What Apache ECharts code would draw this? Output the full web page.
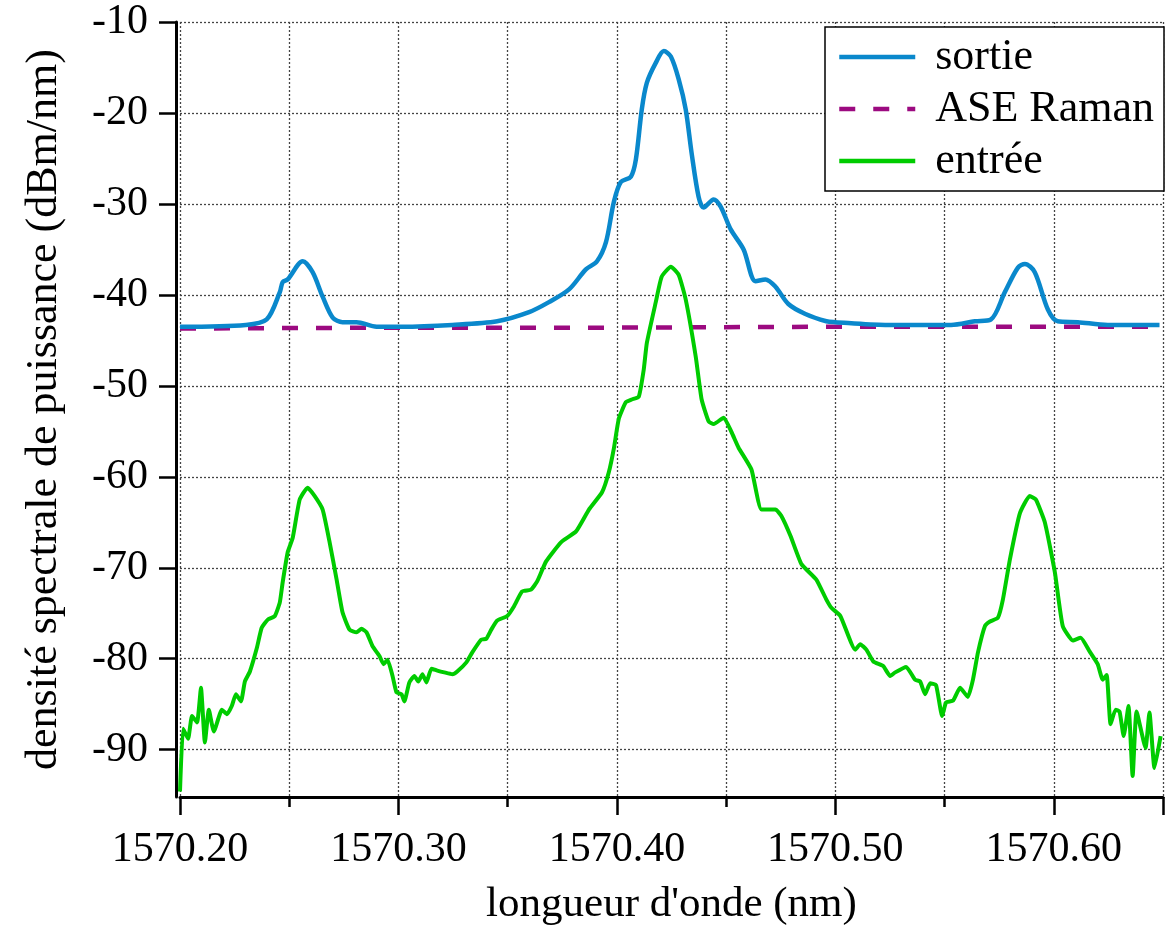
<!DOCTYPE html>
<html>
<head>
<meta charset="utf-8">
<script src="https://cdn.jsdelivr.net/npm/echarts@6/dist/echarts.min.js"></script>
<style>
    html, body { margin: 0; padding: 0; background: #fff; }
    #main { width: 1172px; height: 931px; }
</style>
</head>
<body>
<div id="main"></div>
<script type="text/javascript">
    // longueur d'onde (nm) / densite spectrale (dBm/nm)
    var sortieX = [1570.2000, 1570.2301, 1570.2397, 1570.2457, 1570.2470, 1570.2493, 1570.2562, 1570.2607,
        1570.2653, 1570.2699, 1570.2744, 1570.2808, 1570.2900, 1570.3018, 1570.3247, 1570.3452, 1570.3598,
        1570.3689, 1570.3781, 1570.3858, 1570.3909, 1570.3950, 1570.3986, 1570.4018, 1570.4064, 1570.4087,
        1570.4114, 1570.4137, 1570.4178, 1570.4215, 1570.4247, 1570.4283, 1570.4315, 1570.4342, 1570.4374,
        1570.4397, 1570.4443, 1570.4475, 1570.4521, 1570.4580, 1570.4635, 1570.4680, 1570.4726, 1570.4785,
        1570.4863, 1570.4959, 1570.5000, 1570.5228, 1570.5530, 1570.5639, 1570.5712, 1570.5776, 1570.5836,
        1570.5868, 1570.5913, 1570.5973, 1570.6018, 1570.6110, 1570.6247, 1570.6484];
    var sortieY = [-43.5, -43.3, -42.7, -39.7, -38.6, -38.3, -36.3, -37.5,
        -40.2, -42.5, -43.0, -43.0, -43.5, -43.5, -43.3, -42.9, -41.9,
        -40.8, -39.4, -37.2, -36.3, -34.2, -29.8, -27.6, -27.0, -25.1,
        -19.6, -16.7, -14.5, -13.2, -13.8, -16.3, -19.6, -24.4, -29.2,
        -30.4, -29.5, -30.3, -32.8, -35.0, -38.5, -38.3, -39.1, -41.0,
        -42.1, -42.9, -43.0, -43.3, -43.3, -42.9, -42.7, -39.7, -37.0,
        -36.6, -37.5, -41.6, -42.9, -43.0, -43.3, -43.3];

    var raseX = [1570.20, 1570.30, 1570.40, 1570.50, 1570.60, 1570.65];
    var raseY = [-43.7, -43.6, -43.6, -43.5, -43.5, -43.5];

    var entreeX = [1570.2000, 1570.2014, 1570.2037, 1570.2055, 1570.2078, 1570.2096, 1570.2114, 1570.2132,
        1570.2155, 1570.2192, 1570.2215, 1570.2237, 1570.2256, 1570.2279, 1570.2297, 1570.2320, 1570.2352,
        1570.2374, 1570.2402, 1570.2434, 1570.2457, 1570.2470, 1570.2493, 1570.2516, 1570.2548, 1570.2584,
        1570.2616, 1570.2653, 1570.2685, 1570.2717, 1570.2744, 1570.2776, 1570.2808, 1570.2831, 1570.2854,
        1570.2881, 1570.2913, 1570.2932, 1570.2950, 1570.2973, 1570.2991, 1570.3014, 1570.3027, 1570.3050,
        1570.3073, 1570.3091, 1570.3110, 1570.3128, 1570.3151, 1570.3178, 1570.3210, 1570.3247, 1570.3269,
        1570.3311, 1570.3338, 1570.3379, 1570.3402, 1570.3425, 1570.3452, 1570.3498, 1570.3530, 1570.3566,
        1570.3607, 1570.3635, 1570.3676, 1570.3744, 1570.3813, 1570.3872, 1570.3932, 1570.3963, 1570.3986,
        1570.4009, 1570.4041, 1570.4068, 1570.4100, 1570.4123, 1570.4137, 1570.4178, 1570.4205, 1570.4247,
        1570.4283, 1570.4315, 1570.4361, 1570.4388, 1570.4420, 1570.4443, 1570.4489, 1570.4525, 1570.4557,
        1570.4616, 1570.4662, 1570.4726, 1570.4753, 1570.4795, 1570.4845, 1570.4913, 1570.4959, 1570.4982,
        1570.5023, 1570.5091, 1570.5114, 1570.5142, 1570.5174, 1570.5219, 1570.5251, 1570.5274, 1570.5324,
        1570.5365, 1570.5388, 1570.5411, 1570.5434, 1570.5461, 1570.5489, 1570.5507, 1570.5539, 1570.5571,
        1570.5607, 1570.5630, 1570.5653, 1570.5685, 1570.5708, 1570.5744, 1570.5767, 1570.5799, 1570.5845,
        1570.5890, 1570.5918, 1570.5959, 1570.6005, 1570.6041, 1570.6087, 1570.6123, 1570.6164, 1570.6201,
        1570.6224, 1570.6242, 1570.6260, 1570.6283, 1570.6301, 1570.6320, 1570.6342, 1570.6361, 1570.6379,
        1570.6420, 1570.6438, 1570.6461, 1570.6489];
    var entreeY = [-94.6, -87.7, -88.8, -86.3, -87.0, -83.2, -89.2, -85.6,
        -88.0, -85.6, -86.1, -85.2, -83.9, -84.7, -82.5, -81.4, -78.8,
        -76.6, -75.7, -75.3, -73.8, -71.6, -68.3, -66.7, -62.5, -61.2,
        -62.1, -63.6, -67.2, -71.3, -74.9, -76.8, -77.1, -76.7, -77.1,
        -78.6, -79.7, -80.6, -80.1, -81.9, -83.7, -83.9, -84.7, -82.6,
        -81.9, -82.5, -81.7, -82.6, -81.1, -81.3, -81.5, -81.7, -81.4,
        -80.4, -79.3, -77.9, -77.8, -76.8, -75.8, -75.3, -74.2, -72.6,
        -72.4, -71.5, -69.3, -67.2, -66.0, -63.6, -61.7, -59.5, -56.9,
        -53.6, -51.8, -51.5, -51.2, -48.2, -45.3, -40.8, -38.0, -36.9,
        -37.8, -40.5, -46.8, -51.5, -53.9, -54.2, -53.5, -55.1, -56.8,
        -59.2, -63.6, -63.6, -64.3, -66.5, -69.6, -71.3, -73.5, -74.4,
        -75.3, -79.0, -78.4, -79.0, -80.3, -80.8, -81.9, -81.5, -80.9,
        -82.3, -82.5, -83.9, -82.7, -82.9, -86.3, -84.8, -84.6, -83.2,
        -84.2, -82.3, -79.3, -76.4, -75.9, -75.5, -73.5, -69.1, -64.0,
        -62.1, -62.5, -65.0, -70.5, -76.4, -78.0, -77.7, -79.2, -80.6,
        -82.3, -81.8, -87.2, -85.6, -85.8, -88.5, -85.2, -92.9, -85.8,
        -89.8, -85.9, -92.0, -88.5];

    var yTicks = [-90, -80, -70, -60, -50, -40, -30, -20, -10];
    var seriesNames = ['sortie', 'ASE Raman', 'entrée'];

    function pairs(xs, ys) {
        var out = [];
        for (var i = 0; i < xs.length; i++) {
            out.push([xs[i], ys[i]]);
        }
        return out;
    }

    var font = "'Liberation Serif', 'DejaVu Serif', serif";
    var gridLine = { show: true, lineStyle: { color: '#444', width: 1.3, type: [2, 2] } };

    var myChart = echarts.init(document.getElementById('main'), null, { renderer: 'canvas' });
    var option = {
        backgroundColor: '#fff',
        animation: false,
        grid: { left: 180, right: 9, top: 22, bottom: 134, containLabel: false },
        legend: {
            orient: 'vertical',
            left: 825,
            top: 27,
            padding: [8, 10, 8, 12],
            itemGap: 8,
            itemWidth: 76,
            itemHeight: 14,
            backgroundColor: '#fff',
            borderColor: '#000',
            borderWidth: 1.5,
            borderRadius: 0,
            itemStyle: { opacity: 0 },
            lineStyle: { width: 4.5 },
            textStyle: { fontFamily: font, fontSize: 44, lineHeight: 43, color: '#000', padding: [0, 0, 0, 15] },
            data: seriesNames
        },
        xAxis: {
            type: 'value',
            min: 1570.2,
            max: 1570.65,
            interval: 0.1,
            name: "longueur d'onde (nm)",
            nameLocation: 'middle',
            nameGap: 86,
            nameTextStyle: { fontFamily: font, fontSize: 43, color: '#000' },
            axisLine: { show: true, onZero: false, lineStyle: { color: '#000', width: 3 } },
            axisTick: { show: true, length: 18, lineStyle: { color: '#000', width: 2.5 } },
            minorTick: { show: true, splitNumber: 2, length: 10, lineStyle: { color: '#000', width: 2.5 } },
            minorSplitLine: gridLine,
            splitLine: gridLine,
            axisLabel: {
                fontFamily: font, fontSize: 42, color: '#000', margin: 32, showMaxLabel: false,
                formatter: function (v) { return v.toFixed(2); }
            }
        },
        yAxis: {
            type: 'value',
            min: -95.2,
            max: -10,
            offset: 4,
            name: 'densité spectrale de puissance (dBm/nm)',
            nameLocation: 'middle',
            nameGap: 110,
            nameTextStyle: { fontFamily: font, fontSize: 44, color: '#000' },
            axisLine: { show: true, lineStyle: { color: '#000', width: 3 } },
            axisTick: { show: true, length: 17, customValues: yTicks, lineStyle: { color: '#000', width: 2.5 } },
            splitLine: gridLine,
            axisLabel: {
                fontFamily: font, fontSize: 42, color: '#000', margin: 28, customValues: yTicks,
                formatter: function (v) { return String(v); }
            }
        },
        series: [{
            name: seriesNames[0],
            type: 'line',
            symbol: 'none',
            smooth: 0.3,
            z: 3,
            color: '#0a88cc',
            lineStyle: { color: '#0a88cc', width: 4.5 },
            data: pairs(sortieX, sortieY)
        }, {
            name: seriesNames[1],
            type: 'line',
            symbol: 'none',
            z: 2,
            color: '#9c0a80',
            lineStyle: { color: '#9c0a80', width: 4.5, type: [16, 18] },
            data: pairs(raseX, raseY)
        }, {
            name: seriesNames[2],
            type: 'line',
            symbol: 'none',
            smooth: 0.15,
            z: 2,
            color: '#00cc00',
            lineStyle: { color: '#00cc00', width: 4 },
            data: pairs(entreeX, entreeY)
        }]
    };

    myChart.setOption(option);
</script>
</body>
</html>
